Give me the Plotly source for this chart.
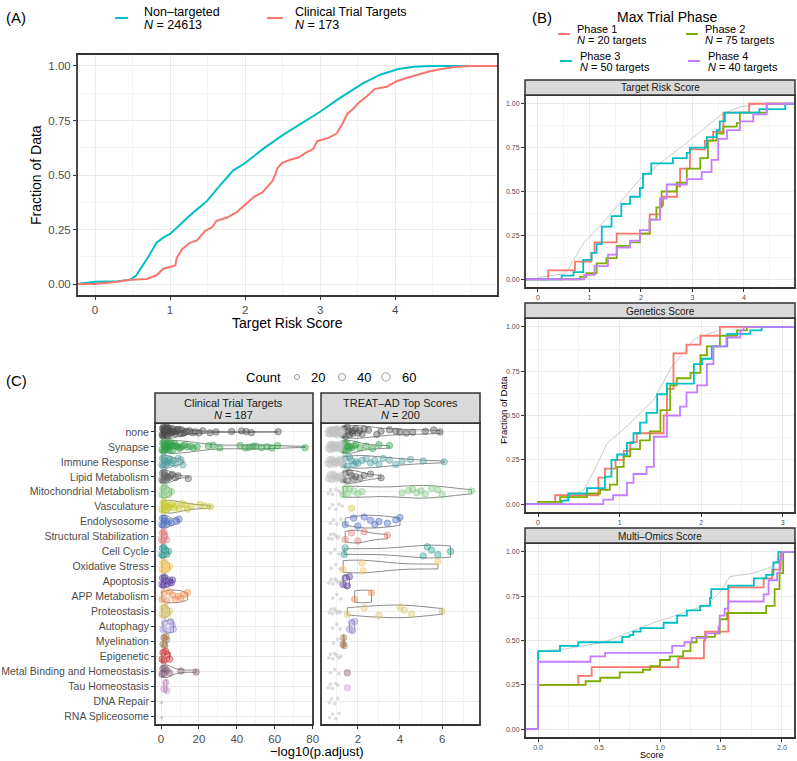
import plotly.graph_objects as go

W, H = 797, 761
FONT = "Liberation Sans"

# ---------------- Panel A data ----------------
nt_score = [0.0, 0.3, 0.47, 0.55, 0.62, 0.72, 0.82, 0.92, 1.0, 1.1, 1.22, 1.35, 1.49, 1.66, 1.84, 2.0,
            2.24, 2.51, 2.75, 3.0, 3.25, 3.57, 3.8, 4.04, 4.25, 4.47, 5.0]
nt_frac = [0.01, 0.013, 0.02, 0.04, 0.075, 0.13, 0.19, 0.215, 0.23, 0.26, 0.30, 0.34, 0.38, 0.45, 0.52, 0.555,
           0.62, 0.685, 0.735, 0.79, 0.85, 0.92, 0.96, 0.986, 0.996, 1.0, 1.0]
ct_score = [0.0, 0.3, 0.47, 0.69, 0.82, 0.91, 1.0, 1.07, 1.09, 1.16, 1.27, 1.36, 1.47, 1.56, 1.62, 1.76, 1.89,
            2.03, 2.12, 2.23, 2.36, 2.4, 2.43, 2.49, 2.6, 2.71, 2.8, 2.91, 2.96, 3.11, 3.22, 3.29, 3.36, 3.43,
            3.51, 3.62, 3.73, 3.89, 4.02, 4.15, 4.3, 4.45, 4.6, 4.8, 5.0]
ct_frac = [0.0, 0.01, 0.02, 0.023, 0.04, 0.07, 0.08, 0.085, 0.12, 0.16, 0.19, 0.20, 0.245, 0.26, 0.29, 0.305, 0.33,
           0.37, 0.40, 0.42, 0.47, 0.50, 0.53, 0.555, 0.57, 0.58, 0.60, 0.62, 0.655, 0.67, 0.69, 0.73, 0.78, 0.80,
           0.83, 0.86, 0.895, 0.905, 0.93, 0.945, 0.96, 0.975, 0.985, 0.995, 1.0]
N_NONTARGET = 24613
N_CLINICAL = 173
a_ticks = [0, 1, 2, 3, 4]

# ---------------- Panel B data ----------------
phase_names = ["Phase 1", "Phase 2", "Phase 3", "Phase 4"]
phase_n = [20, 75, 50, 40]

trs_p1_x = [0.2, 0.72, 1.04, 1.1, 1.53, 2.17, 2.37, 2.43, 2.7, 2.76, 2.95, 3.24, 3.4, 3.6, 4.1]
trs_p1_y = [0.05, 0.10, 0.15, 0.21, 0.26, 0.37, 0.42, 0.47, 0.53, 0.63, 0.74, 0.79, 0.84, 0.95, 1.0]
trs_p2_x = [0.82, 0.94, 1.14, 1.33, 1.53, 1.79, 1.98, 2.17, 2.3, 2.4, 2.69, 2.89, 3.15, 3.3, 3.47, 3.6, 3.86, 3.92, 4.44]
trs_p2_y = [0.013, 0.034, 0.09, 0.12, 0.19, 0.21, 0.26, 0.34, 0.41, 0.50, 0.55, 0.63, 0.69, 0.79, 0.83, 0.87, 0.89, 0.95, 1.0]
trs_p3_x = [0.46, 0.69, 0.88, 1.04, 1.14, 1.24, 1.43, 1.62, 1.79, 1.98, 2.04, 2.2, 2.62, 2.89, 2.95, 3.28, 3.47, 3.53, 3.63, 4.3, 4.8]
trs_p3_y = [0.02, 0.04, 0.11, 0.15, 0.20, 0.30, 0.36, 0.43, 0.47, 0.52, 0.60, 0.66, 0.69, 0.72, 0.75, 0.81, 0.85, 0.90, 0.95, 0.97, 1.0]
trs_p4_x = [0.9, 1.1, 1.36, 1.53, 1.79, 1.98, 2.17, 2.37, 2.5, 2.89, 3.18, 3.37, 3.5, 3.67, 3.92, 4.18, 4.44]
trs_p4_y = [0.025, 0.075, 0.14, 0.18, 0.22, 0.28, 0.34, 0.46, 0.54, 0.57, 0.61, 0.68, 0.80, 0.85, 0.90, 0.94, 1.0]
trs_all_x = [0.0, 0.5, 0.6, 0.69, 0.9, 1.26, 1.6, 1.98, 2.37, 2.9, 3.4, 3.57, 3.9, 4.3]
trs_all_y = [0.01, 0.03, 0.06, 0.11, 0.21, 0.32, 0.44, 0.57, 0.66, 0.78, 0.90, 0.94, 0.98, 1.0]

gen_p1_x = [0.21, 0.74, 0.82, 0.95, 1.05, 1.13, 1.21, 1.54, 1.58, 1.66, 1.82, 1.99, 2.23]
gen_p1_y = [0.05, 0.15, 0.20, 0.25, 0.30, 0.35, 0.40, 0.50, 0.65, 0.85, 0.90, 0.95, 1.0]
gen_p2_x = [0.0, 0.27, 0.6, 0.76, 0.88, 0.97, 1.05, 1.13, 1.25, 1.37, 1.5, 1.62, 1.7, 1.87, 1.99, 2.07, 2.23, 2.44, 2.56]
gen_p2_y = [0.013, 0.04, 0.06, 0.08, 0.11, 0.21, 0.27, 0.31, 0.36, 0.41, 0.53, 0.67, 0.71, 0.74, 0.84, 0.89, 0.95, 0.98, 1.0]
gen_p3_x = [0.29, 0.37, 0.6, 0.82, 0.9, 0.97, 1.09, 1.17, 1.25, 1.33, 1.46, 1.58, 1.91, 2.01, 2.13, 2.32, 2.6, 2.74]
gen_p3_y = [0.02, 0.06, 0.09, 0.155, 0.25, 0.28, 0.345, 0.40, 0.46, 0.515, 0.62, 0.68, 0.79, 0.82, 0.89, 0.96, 0.98, 1.0]
gen_p4_x = [0.8, 0.92, 1.09, 1.17, 1.33, 1.42, 1.58, 1.74, 1.82, 1.95, 2.07, 2.15, 2.31, 2.48, 2.52]
gen_p4_y = [0.025, 0.05, 0.12, 0.17, 0.21, 0.38, 0.50, 0.55, 0.63, 0.67, 0.79, 0.89, 0.94, 0.98, 1.0]
gen_all_x = [0.0, 0.31, 0.56, 0.7, 0.84, 1.09, 1.42, 1.62, 1.91, 2.21]
gen_all_y = [0.0, 0.02, 0.08, 0.2, 0.34, 0.44, 0.59, 0.76, 0.93, 0.98]

mo_p1_x = [0.0, 0.33, 0.44, 1.15, 1.36, 1.37, 1.56, 1.85, 1.92, 1.99]
mo_p1_y = [0.25, 0.30, 0.35, 0.40, 0.50, 0.55, 0.80, 0.85, 0.90, 1.0]
mo_p2_x = [0.0, 0.39, 0.51, 0.67, 0.86, 0.92, 1.0, 1.08, 1.19, 1.25, 1.3, 1.45, 1.49, 1.55, 1.87, 1.94, 1.98, 2.01]
mo_p2_y = [0.25, 0.27, 0.29, 0.32, 0.335, 0.355, 0.39, 0.41, 0.44, 0.49, 0.52, 0.54, 0.62, 0.655, 0.695, 0.79, 0.88, 1.0]
mo_p3_x = [0.0, 0.18, 0.33, 0.69, 0.75, 0.78, 0.84, 1.03, 1.14, 1.22, 1.33, 1.41, 1.42, 1.56, 1.77, 1.87, 1.93, 1.97]
mo_p3_y = [0.44, 0.47, 0.49, 0.52, 0.53, 0.55, 0.57, 0.60, 0.64, 0.67, 0.695, 0.74, 0.79, 0.81, 0.85, 0.87, 0.94, 1.0]
mo_p4_x = [0.0, 0.43, 0.55, 1.1, 1.2, 1.26, 1.38, 1.48, 1.49, 1.53, 1.56, 1.85, 1.89, 1.96, 1.98, 2.0]
mo_p4_y = [0.38, 0.41, 0.43, 0.47, 0.49, 0.515, 0.54, 0.58, 0.64, 0.68, 0.72, 0.76, 0.84, 0.88, 0.96, 1.0]
mo_all_x = [0.0, 0.2, 0.54, 0.95, 1.38, 1.5, 1.57, 1.77, 1.93, 2.0]
mo_all_y = [0.44, 0.45, 0.49, 0.60, 0.70, 0.78, 0.86, 0.88, 0.92, 1.0]

# ---------------- Panel C data ----------------
categories = ["none", "Synapse", "Immune Response", "Lipid Metabolism", "Mitochondrial Metabolism",
              "Vasculature", "Endolysosome", "Structural Stabilization", "Cell Cycle", "Oxidative Stress",
              "Apoptosis", "APP Metabolism", "Proteostasis", "Autophagy", "Myelination", "Epigenetic",
              "Metal Binding and Homeostasis", "Tau Homeostasis", "DNA Repair", "RNA Spliceosome"]
N_CT_TERMS = 187
N_TA_TERMS = 200
count_legend = [20, 40, 60]

ct_values = [
    [0.5, 0.8, 1.0, 1.2, 1.4, 1.5, 1.7, 1.9, 2.0, 2.2, 2.4, 2.6, 2.8, 3.0, 3.2, 3.5, 3.8, 4.0, 4.3, 4.6, 5.0, 5.3,
     5.7, 6.0, 6.5, 7.0, 7.5, 8.0, 8.6, 9.2, 10.0, 10.8, 11.5, 12.5, 13.5, 15.0, 16.5, 18.0, 20.0, 22.0, 25.8,
     29.0, 37.2, 42.5, 45.0, 47.7, 61.8],
    [0.5, 0.9, 1.2, 1.5, 1.8, 2.1, 2.4, 2.7, 3.0, 3.3, 3.7, 4.1, 4.5, 5.0, 5.5, 6.0, 6.6, 7.2, 8.0, 8.8, 9.6, 10.5,
     11.5, 12.5, 14.0, 15.5, 17.0, 19.0, 25.0, 27.5, 31.0, 41.7, 44.5, 46.5, 48.5, 50.0, 53.0, 56.0, 58.5, 61.5, 76.0],
    [0.4, 0.8, 1.2, 1.6, 2.0, 2.5, 3.0, 3.5, 4.0, 4.8, 5.5, 6.5, 7.5, 9.0, 10.5, 11.5],
    [0.4, 0.8, 1.2, 1.7, 2.2, 2.8, 3.4, 4.0, 5.0, 6.0, 7.5, 9.0, 14.4],
    [0.4, 0.9, 1.5, 2.2, 3.0, 4.0, 5.5],
    [0.5, 1.0, 1.5, 2.0, 2.5, 3.0, 3.5, 4.2, 5.0, 6.0, 7.0, 8.0, 9.5, 11.0, 12.5, 14.0, 16.0, 20.5, 23.0, 26.0],
    [0.4, 0.8, 1.2, 1.7, 2.3, 3.0, 4.0, 5.5, 8.0, 9.5],
    [0.3, 0.7, 1.0, 1.5, 2.0, 3.0],
    [0.3, 0.7, 1.0, 1.5, 2.2, 3.0, 4.0],
    [0.5, 1.0, 1.5, 2.0, 2.5, 3.5, 4.5],
    [0.4, 0.8, 1.2, 1.8, 2.5, 3.2, 4.0, 5.5, 6.0],
    [0.5, 1.5, 3.0, 4.5, 6.0, 7.5, 9.0, 10.5, 12.0, 14.0],
    [0.5, 1.0, 1.5, 2.0, 2.8, 3.5, 4.5],
    [1.0, 2.0, 3.5, 5.0, 6.0, 6.5],
    [1.0, 1.5, 2.0, 2.5, 3.0],
    [0.5, 1.0, 1.5, 2.5, 3.5, 4.5],
    [0.5, 1.0, 1.5, 2.0, 3.0, 4.5, 10.5, 18.5],
    [1.5, 2.5, 3.0],
    [],
    [],
]
ct_grey_values = [[], [], [], [], [], [], [], [], [], [], [], [], [], [], [], [], [], [], [0.3], [0.3]]

ta_values = [
    [1.3, 1.35, 1.4, 1.5, 1.55, 1.6, 1.7, 1.75, 1.8, 1.9, 2.0, 2.1, 2.2, 2.3, 2.5, 2.9, 3.1, 3.5, 3.8, 4.0, 4.3,
     4.6, 5.2, 5.6, 5.9],
    [1.3, 1.35, 1.4, 1.45, 1.5, 1.55, 1.6, 1.7, 1.8, 1.9, 2.1, 2.4, 2.7, 3.0, 3.5],
    [1.3, 1.4, 1.5, 1.6, 1.7, 1.8, 1.9, 2.0, 2.2, 2.4, 2.6, 2.8, 3.0, 3.2, 3.5, 3.8, 4.1, 4.5, 5.1, 6.1],
    [1.3, 1.4, 1.5, 1.6, 1.7, 1.8, 1.9, 2.1, 2.3, 2.6, 3.1],
    [1.3, 1.4, 1.5, 1.6, 1.8, 2.0, 2.2, 4.1, 4.4, 4.6, 4.8, 5.0, 5.2, 5.5, 5.8, 6.0, 7.4],
    [1.7],
    [1.4, 1.8, 2.0, 2.3, 2.6, 2.8, 3.0, 3.4, 3.8, 4.0],
    [1.4, 1.7, 2.0, 2.3, 3.4],
    [1.35, 1.4, 5.1, 5.3, 5.5, 5.8, 6.4],
    [1.3, 2.2, 2.25, 5.8],
    [1.3, 1.4, 1.5, 1.6],
    [1.85, 2.65],
    [1.5, 2.3, 3.0, 4.0, 4.2, 4.55, 6.0],
    [1.6, 1.7, 1.75, 1.85],
    [1.3, 1.32, 1.35],
    [],
    [1.5],
    [1.5],
    [],
    [],
]
ta_grey_values = [
    [0.6, 0.65, 0.68, 0.72, 0.75, 0.78, 0.8, 0.83, 0.86, 0.88, 0.9, 0.93, 0.95, 0.98, 1.0, 1.03, 1.05, 1.08,
     1.1, 1.13, 1.16, 1.2, 1.24],
    [0.62, 0.68, 0.72, 0.76, 0.8, 0.84, 0.88, 0.92, 0.96, 1.0, 1.05, 1.1, 1.15, 1.2],
    [0.6, 0.66, 0.72, 0.78, 0.84, 0.9, 0.96, 1.02, 1.08, 1.14, 1.2, 1.26],
    [0.62, 0.7, 0.76, 0.82, 0.9, 0.98, 1.05, 1.12, 1.2],
    [0.6, 0.7, 0.8, 0.95, 1.1, 1.2],
    [0.65, 0.8, 0.95, 1.1, 1.25],
    [0.7, 0.85, 1.0, 1.2],
    [0.62, 0.7, 0.78, 0.86, 0.94, 1.02, 1.1],
    [0.7, 0.9, 1.1],
    [0.75, 0.95, 1.15],
    [0.62, 0.72, 0.82, 0.92, 1.0, 1.1, 1.2],
    [0.8, 1.0, 1.2],
    [0.65, 0.72, 0.8, 0.88, 0.95, 1.02, 1.1, 1.18],
    [0.8, 1.0, 1.15],
    [0.85, 1.05],
    [0.62, 0.7, 0.8, 0.9, 1.0, 1.1, 1.2],
    [0.7, 0.9, 1.1],
    [0.6, 0.7, 0.8, 0.95, 1.05],
    [0.65, 0.75, 0.9, 1.05],
    [0.65, 0.8, 0.95, 1.1],
]

# ---------------- styles ----------------
cat_colors = ["#4d4d4d", "#2e9e44", "#4e9c9c", "#595959", "#7fc97f", "#c8c82a", "#4a6cc2", "#e07a7a",
              "#2a9d8f", "#f2c45a", "#5b3a9e", "#f28a4a", "#d9c26a", "#9b8fd6", "#a87b4f", "#cc2b2b",
              "#7d5873", "#d08fcf", "#9e9e9e", "#9e9e9e"]
C_RED, C_CYAN, C_GREEN, C_PURPLE = "#F8766D", "#00BFC4", "#7CAE00", "#C77CFF"
phase_colors = [C_RED, C_GREEN, C_CYAN, C_PURPLE]


def rgba(hexc, a):
    h = hexc.lstrip("#")
    return "rgba(%d,%d,%d,%.2f)" % (int(h[0:2], 16), int(h[2:4], 16), int(h[4:6], 16), a)


def px(x):
    return x / W


def py(y):
    return 1 - y / H


GRID = "#ebebeb"
MINOR = "#f4f4f4"
TICKC = "#4d4d4d"

fig = go.Figure()

# ---------- Panel A ----------
A_XR = [-0.24, 5.37]
A_YR = [-0.055, 1.055]
fig.add_trace(go.Scatter(x=[A_XR[0]] + nt_score, y=[0] + nt_frac, mode="lines",
                         line=dict(color=C_CYAN, width=2), xaxis="x", yaxis="y",
                         showlegend=False, hoverinfo="skip"))
fig.add_trace(go.Scatter(x=[A_XR[0]] + ct_score + [A_XR[1]], y=[0] + ct_frac + [ct_frac[-1]], mode="lines",
                         line=dict(color=C_RED, width=2), xaxis="x", yaxis="y",
                         showlegend=False, hoverinfo="skip"))

# ---------- Panel B ----------
B_SETS = [
    ("2", [-0.25, 4.99], [(trs_p1_x, trs_p1_y), (trs_p2_x, trs_p2_y), (trs_p3_x, trs_p3_y), (trs_p4_x, trs_p4_y)],
     (trs_all_x, trs_all_y)),
    ("3", [-0.16, 3.15], [(gen_p1_x, gen_p1_y), (gen_p2_x, gen_p2_y), (gen_p3_x, gen_p3_y), (gen_p4_x, gen_p4_y)],
     (gen_all_x, gen_all_y)),
    ("4", [-0.107, 2.107], [(mo_p1_x, mo_p1_y), (mo_p2_x, mo_p2_y), (mo_p3_x, mo_p3_y), (mo_p4_x, mo_p4_y)],
     (mo_all_x, mo_all_y)),
]
for suf, xr, series, allc in B_SETS:
    fig.add_trace(go.Scatter(x=allc[0], y=allc[1], mode="lines", line=dict(color="#bdbdbd", width=0.8),
                             xaxis="x" + suf, yaxis="y" + suf, showlegend=False, hoverinfo="skip"))
    for (xs, ys), col in zip(series, phase_colors):
        fig.add_trace(go.Scatter(x=[xr[0]] + xs + [xr[1]], y=[0] + ys + [ys[-1]], mode="lines",
                                 line=dict(color=col, width=1.8, shape="hv"),
                                 xaxis="x" + suf, yaxis="y" + suf, showlegend=False, hoverinfo="skip"))


# ---------- Panel C ----------
def add_points(vals, cat, axis, color, size, edge, violin):
    if not vals:
        return
    common = dict(x=vals, y=[cat] * len(vals), orientation="h", xaxis="x" + axis, yaxis="y" + axis,
                  showlegend=False, hoverinfo="skip", pointpos=0)
    if violin and len(vals) >= 2:
        fig.add_trace(go.Violin(points="all", jitter=0.9, spanmode="hard", scalemode="width", width=0.85,
                                fillcolor="rgba(0,0,0,0)", line=dict(color="#5a5a5a", width=0.7),
                                marker=dict(size=size, color=color, line=dict(color=edge, width=0.6)),
                                box_visible=False, meanline_visible=False, **common))
    else:
        fig.add_trace(go.Box(boxpoints="all", jitter=0.7, width=0.6, fillcolor="rgba(0,0,0,0)",
                             line=dict(color="rgba(0,0,0,0)", width=0),
                             marker=dict(size=size, color=color, line=dict(color=edge, width=0.5)),
                             **common))


for i, cat in enumerate(categories):
    col = cat_colors[i]
    add_points(ct_values[i], cat, "5", rgba(col, 0.4), 6.5, rgba(col, 0.75), True)
    add_points(ct_grey_values[i], cat, "5", rgba("#b0b0b0", 0.6), 2.5, rgba("#b0b0b0", 0.6), False)
    gsize = 7 if i < 4 else 3
    add_points(ta_grey_values[i], cat, "6", rgba("#c8c8c8", 0.55), gsize, rgba("#b5b5b5", 0.6), False)
    add_points(ta_values[i], cat, "6", rgba(col, 0.4), 6.5, rgba(col, 0.75), True)


# ---------- axes ----------
def axis(domain, rng, anchor, dtick=None, minor=None, fs=12, fmt=None, **kw):
    d = dict(domain=domain, range=rng, anchor=anchor, showgrid=True, gridcolor=GRID, gridwidth=1.4,
             zeroline=False, showline=False, ticks="outside", ticklen=3, tickcolor="#333333", tickwidth=1,
             automargin=False, tickfont=dict(size=fs, color=TICKC, family=FONT))
    if dtick is not None:
        d["dtick"] = dtick
        d["tick0"] = 0
    if minor is not None:
        d["minor"] = dict(dtick=minor, tick0=0, showgrid=True, gridcolor=MINOR, gridwidth=0.8, ticks="")
    if fmt:
        d["tickformat"] = fmt
    d.update(kw)
    return d


B_X = [px(525), px(795)]
xa = axis([px(77), px(498)], A_XR, "y", None, 0.5, 11.5)
xa["tickmode"] = "array"
xa["tickvals"] = a_ticks
xa["ticktext"] = [str(t) for t in a_ticks]
layout_axes = dict(
    xaxis=xa,
    yaxis=axis([py(296), py(54)], A_YR, "x", 0.25, 0.125, 11.5, ".2f"),
    xaxis2=axis(B_X, [-0.25, 4.99], "y2", 1, 0.5, 7),
    yaxis2=axis([py(288), py(95)], [-0.05, 1.05], "x2", 0.25, 0.125, 7, ".2f"),
    xaxis3=axis(B_X, [-0.16, 3.15], "y3", 1, 0.5, 7),
    yaxis3=axis([py(513), py(318)], [-0.05, 1.05], "x3", 0.25, 0.125, 7, ".2f"),
    xaxis4=axis(B_X, [-0.107, 2.107], "y4", 0.5, 0.25, 7, ".1f"),
    yaxis4=axis([py(738), py(543)], [-0.05, 1.05], "x4", 0.25, 0.125, 7, ".2f"),
    xaxis5=axis([px(155), px(313)], [-3.2, 80.2], "y5", 20, 10, 11.5),
    yaxis5=dict(domain=[py(725), py(423)], anchor="x5", type="category", categoryorder="array",
                categoryarray=categories, range=[19.6, -0.6], showgrid=True, gridcolor=GRID, gridwidth=1.4,
                zeroline=False, ticks="outside", ticklen=3, tickcolor="#333333", automargin=False,
                tickfont=dict(size=10.5, color=TICKC, family=FONT)),
    xaxis6=axis([px(321), px(480)], [0.25, 7.8], "y6", 2, 1, 11.5),
    yaxis6=dict(domain=[py(725), py(423)], anchor="x6", matches="y5", type="category", automargin=False,
                showgrid=True, gridcolor=GRID, gridwidth=1.4, zeroline=False, showticklabels=False, ticks=""),
)

shapes = []
annotations = []


def ann(text, x, y, size, color="black", xanchor="center", yanchor="middle", angle=0):
    annotations.append(dict(text=text, x=px(x), y=py(y), xref="paper", yref="paper", showarrow=False,
                            font=dict(size=size, color=color, family=FONT), xanchor=xanchor,
                            yanchor=yanchor, textangle=angle))


def rect(x0, y0, x1, y1, fill, lw=1.2, lc="#333333"):
    shapes.append(dict(type="rect", xref="paper", yref="paper", x0=px(x0), x1=px(x1), y0=py(y1), y1=py(y0),
                       fillcolor=fill, line=dict(color=lc, width=lw), layer="above"))


def hline(x0, x1, y, color, w=2):
    shapes.append(dict(type="line", xref="paper", yref="paper", x0=px(x0), x1=px(x1), y0=py(y), y1=py(y),
                       line=dict(color=color, width=w)))


# panel borders
for s in ["", "2", "3", "4", "5", "6"]:
    shapes.append(dict(type="rect", xref="x" + s + " domain", yref="y" + s + " domain",
                       x0=0, x1=1, y0=0, y1=1, line=dict(color="#333333", width=1.8), fillcolor="rgba(0,0,0,0)",
                       layer="above"))

# strips B
for (y0, y1, t) in [(80, 95, "Target Risk Score"), (303, 318, "Genetics Score"), (528, 543, "Multi\u2013Omics Score")]:
    rect(525, y0, 795, y1, "#d9d9d9", 1.5)
    ann(t, 660, (y0 + y1) / 2 + 0.5, 10, "#1a1a1a")
# strips C
rect(155, 393, 313, 423, "#d9d9d9", 1.5)
rect(321, 393, 480, 423, "#d9d9d9", 1.5)
ann("Clinical Trial Targets", 234, 403, 11, "#1a1a1a")
ann("<i>N</i> = %d" % N_CT_TERMS, 234, 415, 11, "#1a1a1a")
ann("TREAT\u2013AD Top Scores", 400.5, 403, 11, "#1a1a1a")
ann("<i>N</i> = %d" % N_TA_TERMS, 400.5, 415, 11, "#1a1a1a")

# panel labels
ann("(A)", 4, 17, 15, xanchor="left")
ann("(B)", 530, 18, 15, xanchor="left")
ann("(C)", 4, 380, 15, xanchor="left")

# Panel A legend
hline(115, 128, 18, C_CYAN, 2)
ann("Non\u2013targeted", 142, 11.5, 12.5, xanchor="left")
ann("<i>N</i> = %d" % N_NONTARGET, 142, 24.5, 12.5, xanchor="left")
hline(267, 283, 18, C_RED, 2)
ann("Clinical Trial Targets", 293, 11.5, 12.5, xanchor="left")
ann("<i>N</i> = %d" % N_CLINICAL, 293, 24.5, 12.5, xanchor="left")

# Panel A axis titles
ann("Target Risk Score", 287, 323, 14)
ann("Fraction of Data", 36, 175, 14, angle=-90)

# Panel B legend
ann("Max Trial Phase", 667, 17, 14)
leg_pos = [(558, 575, 34), (686, 703, 34), (560, 578, 61), (688, 706, 61)]
for (kx, tx, ky), name, n, col in zip(leg_pos, phase_names, phase_n, phase_colors):
    hline(kx, kx + 12, ky, col, 2)
    ann(name, tx, ky - 5, 11, xanchor="left")
    ann("<i>N</i> = %d targets" % n, tx, ky + 6, 11, xanchor="left")

ann("Fraction of Data", 503, 410, 9.5, angle=-90)
ann("Score", 652, 755, 9)

# Panel C legend + title
ann("Count", 263, 377, 13)
for cx, r, tx, lab in [(297, 2.5, 318, count_legend[0]), (342, 3.5, 364, count_legend[1]),
                       (386, 4.2, 409, count_legend[2])]:
    shapes.append(dict(type="circle", xref="paper", yref="paper", x0=px(cx - r), x1=px(cx + r),
                       y0=py(377 + r), y1=py(377 - r), line=dict(color="#9a9a9a", width=1),
                       fillcolor="rgba(0,0,0,0)"))
    ann(str(lab), tx, 377, 13)
ann("\u2212log10(p.adjust)", 317, 751, 13)

fig.update_layout(
    width=W, height=H, margin=dict(l=0, r=0, t=0, b=0, autoexpand=False),
    paper_bgcolor="white", plot_bgcolor="white",
    violinmode="overlay", boxmode="overlay", violingap=0, violingroupgap=0, boxgap=0, boxgroupgap=0,
    shapes=shapes, annotations=annotations, showlegend=False,
    font=dict(family=FONT),
)
fig.update_layout(**layout_axes)

fig.write_html("out.html", config={"displayModeBar": False},
               post_script="document.body.style.margin='0px';document.body.style.overflow='hidden';")
